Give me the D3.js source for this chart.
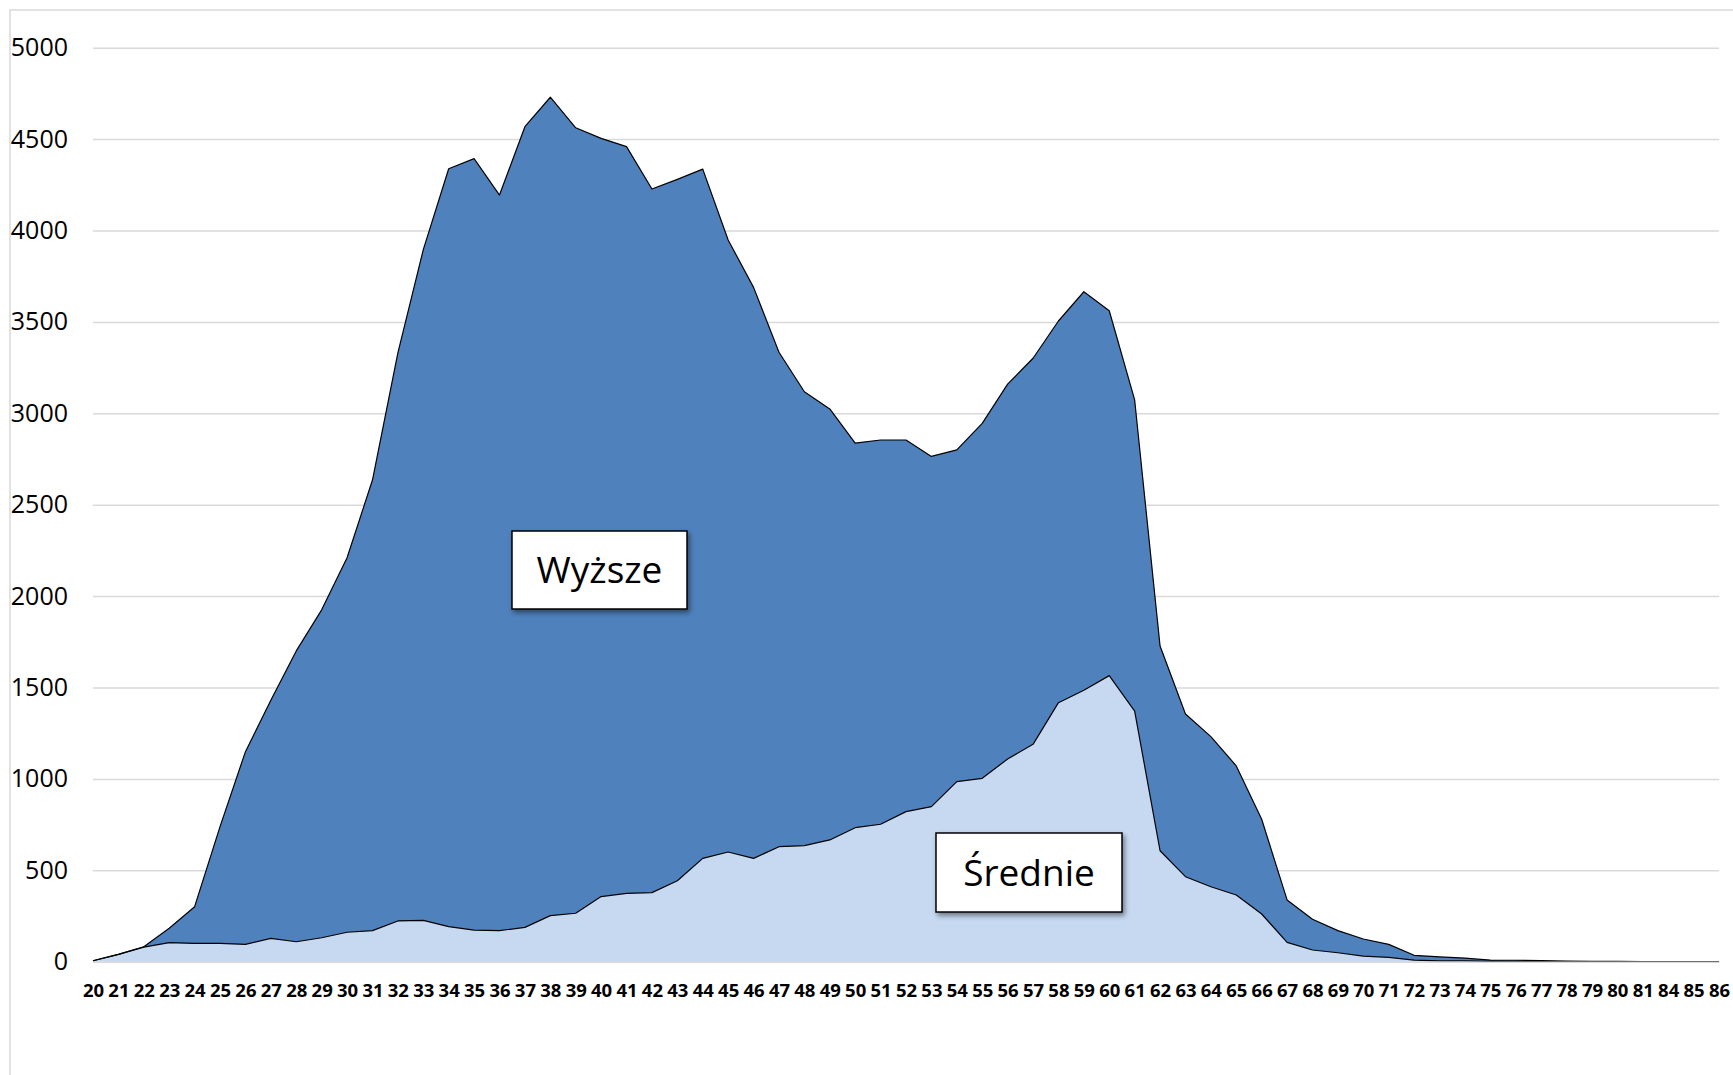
<!DOCTYPE html>
<html>
<head>
<meta charset="utf-8">
<script src="https://cdn.jsdelivr.net/npm/d3@7"></script>
<style>
  body { margin: 0; background: #fff; }
  svg { display: block; }
  .ytick text { font-family: "Open Sans", "Liberation Sans", sans-serif; font-size: 25px; fill: #000; }
  .xtick text { font-family: "Open Sans", "Liberation Sans", sans-serif; font-size: 18.5px; font-weight: bold; fill: #000; }
</style>
</head>
<body>
<div class="chart"></div>
<script>
// wiek (age) categories - 82 and 83 are missing in the source
var ages = [20,21,22,23,24,25,26,27,28,29,30,31,32,33,34,35,36,37,38,39,
            40,41,42,43,44,45,46,47,48,49,50,51,52,53,54,55,56,57,58,59,
            60,61,62,63,64,65,66,67,68,69,70,71,72,73,74,75,76,77,78,79,
            80,81,84,85,86];

// wykształcenie średnie
var srednie = [5,40,80,104,100,100,95,128,109,131,161,170,223,226,192,173,170,188,252,265,
               356,374,378,443,565,600,565,629,635,666,733,752,821,848,985,1003,1109,1189,1417,1485,
               1565,1371,607,465,410,365,261,106,64,49,31,24,9,5,4,2,2,1,1,0,
               0,0,0,0,0];

// wykształcenie wyższe
var wyzsze = [0,0,2,79,201,639,1054,1302,1591,1794,2049,2465,3107,3669,4146,4220,4024,4380,4477,4297,
              4148,4085,3849,3837,3771,3348,3124,2705,2483,2358,2104,2102,2033,1916,1815,1942,2051,2112,2088,2180,
              1996,1702,1120,890,821,706,518,232,168,121,93,71,26,21,16,7,6,5,2,2,
              2,1,1,1,1];

var yTicks = [0,500,1000,1500,2000,2500,3000,3500,4000,4500,5000];

var W = 1733, H = 1075;
var plotLeft = 93, plotRight = 1719, plotTop = 47.7, plotBottom = 961.7;

var svg = d3.select(".chart").append("svg")
    .attr("width", W)
    .attr("height", H);

var defs = svg.append("defs");
var f = defs.append("filter").attr("id", "shadow")
    .attr("x", "-10%").attr("y", "-10%").attr("width", "130%").attr("height", "140%");
f.append("feDropShadow")
    .attr("dx", 2).attr("dy", 3).attr("stdDeviation", 2.5)
    .attr("flood-color", "#000").attr("flood-opacity", 0.45);

// outer chart frame (cut by the picture on right and bottom)
svg.append("rect")
    .attr("x", 10).attr("y", 10)
    .attr("width", W + 20).attr("height", H + 20)
    .attr("fill", "none").attr("stroke", "#d9d9d9").attr("stroke-width", 1.5);

var x = d3.scalePoint().domain(ages).range([plotLeft, plotRight]);
var y = d3.scaleLinear().domain([0, 5000]).range([plotBottom, plotTop]);

// gridlines + y labels
var yAxis = svg.append("g")
    .attr("class", "ytick")
    .attr("transform", "translate(" + plotLeft + ",0)")
    .call(d3.axisLeft(y).tickValues(yTicks).tickFormat(d3.format("d"))
        .tickSize(-(plotRight - plotLeft)).tickPadding(25));
yAxis.select(".domain").remove();
yAxis.selectAll("line").attr("stroke", "#d9d9d9").attr("stroke-width", 1.5);

var rows = ages.map(function(a, i) {
    return { age: a, "Średnie": srednie[i], "Wyższe": wyzsze[i] };
});
var stack = d3.stack().keys(["Średnie", "Wyższe"]);
var series = stack(rows);
var colors = { "Średnie": "#c6d9f1", "Wyższe": "#4f81bd" };

var area = d3.area()
    .x(function(d) { return x(d.data.age); })
    .y0(function(d) { return y(d[0]); })
    .y1(function(d) { return y(d[1]); });

svg.selectAll(".layer")
    .data(series)
    .enter()
    .append("path")
    .attr("class", "layer")
    .attr("d", area)
    .attr("fill", function(d) { return colors[d.key]; });

var topLine = d3.line()
    .x(function(d) { return x(d.data.age); })
    .y(function(d) { return y(d[1]); });

svg.selectAll(".edge")
    .data(series)
    .enter()
    .append("path")
    .attr("class", "edge")
    .attr("d", topLine)
    .attr("fill", "none")
    .attr("stroke", "#000")
    .attr("stroke-width", 1.2)
    .attr("stroke-linejoin", "round");

// x labels
var xAxis = svg.append("g")
    .attr("class", "xtick")
    .attr("transform", "translate(0," + plotBottom + ")")
    .call(d3.axisBottom(x).tickSize(0).tickPadding(22));
xAxis.select(".domain").attr("stroke", "#d9d9d9").attr("stroke-width", 1.5);

// series labels
var labels = [
    { text: "Wyższe", x: 512, y: 531, w: 175, h: 78 },
    { text: "Średnie", x: 936, y: 833, w: 186, h: 79 }
];
var lab = svg.selectAll(".lab").data(labels).enter().append("g").attr("class", "lab");
lab.append("rect")
    .attr("x", function(d) { return d.x; })
    .attr("y", function(d) { return d.y; })
    .attr("width", function(d) { return d.w; })
    .attr("height", function(d) { return d.h; })
    .attr("fill", "#fff")
    .attr("stroke", "#000")
    .attr("stroke-width", 1.5)
    .attr("filter", "url(#shadow)");
lab.append("text")
    .attr("x", function(d) { return d.x + d.w / 2; })
    .attr("y", function(d) { return d.y + d.h / 2; })
    .attr("dy", "0.36em")
    .attr("text-anchor", "middle")
    .style("font-family", "'Open Sans', 'Liberation Sans', sans-serif")
    .style("font-size", "37px")
    .text(function(d) { return d.text; });
</script>
</body>
</html>
